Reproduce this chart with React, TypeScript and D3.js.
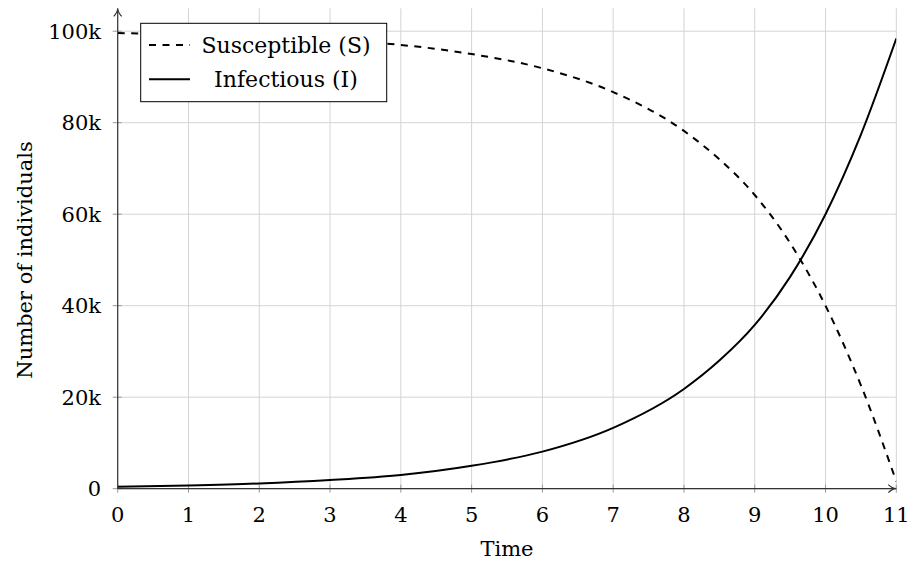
import React from "react";
import * as d3 from "d3";

const timePoints = [0, 1, 2, 3, 4, 5, 6, 7, 8, 8.5, 9, 9.5, 10, 10.5, 11];
const infectious = [0.4, 0.7, 1.15, 1.9, 3.0, 5.0, 8.1, 13.3, 21.8, 28.0, 35.8, 46.3, 60.0, 77.4, 98.4];
const susceptible = [99.6, 99.3, 98.85, 98.1, 97.0, 95.0, 91.9, 86.7, 78.2, 72.0, 64.2, 53.7, 40.0, 22.6, 1.6];
const xTicks = [0, 1, 2, 3, 4, 5, 6, 7, 8, 9, 10, 11];
const yTicks = [0, 20, 40, 60, 80, 100];
const yTickLabels = ["0", "20k", "40k", "60k", "80k", "100k"];
const seriesNames = ["Susceptible (S)", "Infectious (I)"];

const W = 909;
const H = 561;
const FONT = "DejaVu Serif";
const FS = 21;

export default function App() {
  const x = d3.scaleLinear().domain([0, 11]).range([117.7, 896.3]);
  const y = d3.scaleLinear().domain([0, 100]).range([488.7, 31.2]);
  const yTop = 105;

  const line = (vals: number[]) =>
    d3
      .line<number>()
      .x((_, i) => x(timePoints[i]))
      .y((v) => y(v))
      .curve(d3.curveMonotoneX)(vals) || "";

  const x0 = x(0);
  const x1 = x(11);
  const y0 = y(0);
  const y1 = y(yTop);

  return (
    <svg
      width={W}
      height={H}
      style={{ position: "absolute", left: 0, top: 0, background: "#fff", fontFamily: FONT }}
    >
      <defs>
        <clipPath id="plotclip">
          <rect x={x0} y={y1} width={x1 - x0} height={y0 - y1} />
        </clipPath>
      </defs>
      <g stroke="#d4d4d4" strokeWidth={1}>
        {xTicks.map((t) => (
          <line key={"gx" + t} x1={x(t)} x2={x(t)} y1={y0} y2={y1} />
        ))}
        {yTicks.map((t) => (
          <line key={"gy" + t} x1={x0} x2={x1} y1={y(t)} y2={y(t)} />
        ))}
      </g>
      <g stroke="#999" strokeWidth={1}>
        {xTicks.map((t) => (
          <line key={"tx" + t} x1={x(t)} x2={x(t)} y1={y0 - 4} y2={y0 + 4} />
        ))}
        {yTicks.map((t) => (
          <line key={"ty" + t} x1={x0 - 5} x2={x0 + 4} y1={y(t)} y2={y(t)} />
        ))}
      </g>
      <g clipPath="url(#plotclip)" fill="none" stroke="#000" strokeWidth={2}>
        <path d={line(susceptible)} strokeDasharray="7 6.5" />
        <path d={line(infectious)} />
      </g>
      <g stroke="#333" strokeWidth={1.2}>
        <line x1={x0} x2={x1 - 2} y1={y0} y2={y0} />
        <line x1={x0} x2={x0} y1={y0} y2={y1 + 2} />
      </g>
      <path
        d={`M${x1 - 8},${y0 - 4} Q${x1 - 4},${y0} ${x1},${y0} Q${x1 - 4},${y0} ${x1 - 8},${y0 + 4}`}
        fill="none"
        stroke="#333"
        strokeWidth={1.2}
      />
      <path
        d={`M${x0 - 4},${y1 + 8} Q${x0},${y1 + 4} ${x0},${y1} Q${x0},${y1 + 4} ${x0 + 4},${y1 + 8}`}
        fill="none"
        stroke="#333"
        strokeWidth={1.2}
      />
      <g fontSize={FS} fill="#000">
        {xTicks.map((t) => (
          <text key={"lx" + t} x={x(t)} y={521.5} textAnchor="middle">
            {t}
          </text>
        ))}
        {yTicks.map((t, i) => (
          <text key={"ly" + t} x={101} y={y(t) + 7.5} textAnchor="end">
            {yTickLabels[i]}
          </text>
        ))}
      </g>
      <text x={(x0 + x1) / 2} y={556} textAnchor="middle" fontSize={FS}>
        Time
      </text>
      <text transform={`translate(32,260) rotate(-90)`} textAnchor="middle" fontSize={FS}>
        Number of individuals
      </text>
      <g>
        <rect x={140.7} y={23.3} width={246} height={78.4} fill="#fff" stroke="#000" strokeWidth={1} />
        <line x1={149} x2={190} y1={45} y2={45} stroke="#000" strokeWidth={2} strokeDasharray="7 6.5" />
        <line x1={149} x2={190} y1={79.3} y2={79.3} stroke="#000" strokeWidth={2} />
        <text x={286} y={52.8} textAnchor="middle" fontSize={22}>
          {seriesNames[0]}
        </text>
        <text x={286} y={87.3} textAnchor="middle" fontSize={22}>
          {seriesNames[1]}
        </text>
      </g>
    </svg>
  );
}
